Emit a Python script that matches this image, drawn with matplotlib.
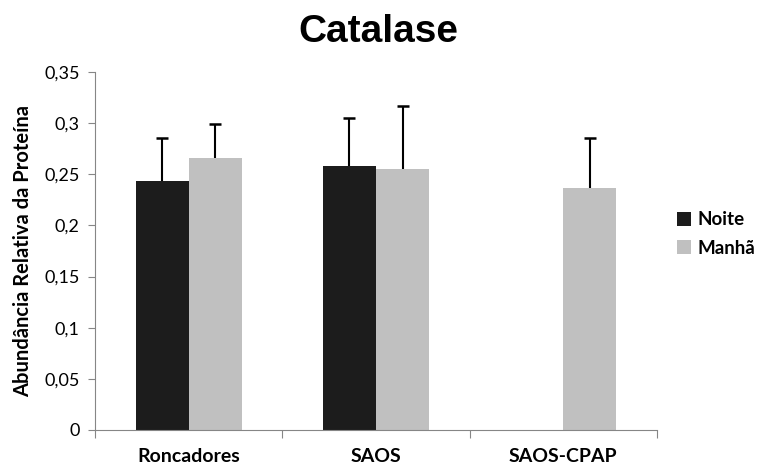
import numpy as np
import matplotlib.pyplot as plt

groups = ["Roncadores", "SAOS", "SAOS-CPAP"]
noite = [0.243, 0.258, 0.0]
manha = [0.266, 0.2555, 0.2363]
noite_err = [0.042, 0.047, 0.0]
manha_err = [0.033, 0.061, 0.049]

fig = plt.figure(figsize=(7.61, 4.68), dpi=100)
ax = fig.add_axes([95 / 761, 38 / 468, 562 / 761, 358 / 468])

x = np.arange(len(groups))
w = 0.283
axis_grey = "#868686"

ax.bar(x - w / 2, noite, w, color="#1c1c1c", label="Noite")
ax.bar(x + w / 2, manha, w, color="#c0c0c0", label="Manhã")

# upper-only error bars
for xs, ys, es in [(x - w / 2, noite, noite_err), (x + w / 2, manha, manha_err)]:
    for xi, yi, ei in zip(xs, ys, es):
        if ei <= 0:
            continue
        ax.vlines(xi, yi, yi + ei, color="black", lw=1.5, zorder=3)
        ax.plot(xi, yi + ei, marker="_", ms=9, mew=1.8, color="black", zorder=3)

ax.set_xlim(-0.5, 2.5)
ax.set_ylim(0, 0.35)
ax.set_yticks(np.arange(0, 0.351, 0.05))
ax.set_yticklabels(["0", "0,05", "0,1", "0,15", "0,2", "0,25", "0,3", "0,35"],
                   fontsize=13, family="Lato")

# category labels centred, ticks on the boundaries
ax.set_xticks([-0.5, 0.5, 1.5, 2.5])
ax.set_xticklabels([])
ax.set_xticks(x, minor=True)
ax.set_xticklabels(groups, minor=True, fontsize=14, fontweight="bold", family="Lato")
ax.tick_params(axis="x", which="minor", length=0, pad=13)
ax.tick_params(axis="x", which="major", length=6, color=axis_grey)
ax.tick_params(axis="y", length=5, color=axis_grey, pad=6)

for side in ["top", "right"]:
    ax.spines[side].set_visible(False)
for side in ["left", "bottom"]:
    ax.spines[side].set_color(axis_grey)

ax.set_ylabel("Abundância Relativa da Proteína", fontsize=14.5, fontweight="bold",
              family="Lato", labelpad=8)

fig.text(378 / 761, 1 - 32 / 468, "Catalase", ha="center", va="center",
         fontsize=28, fontweight="bold", family="Liberation Sans")

fig.legend(loc="center left", bbox_to_anchor=(664 / 761, 1 - 234 / 468), frameon=False,
           prop={"family": "Lato", "weight": "bold", "size": 13.5},
           handlelength=0.75, handleheight=0.75, handletextpad=0.35, labelspacing=0.6,
           borderpad=0.2)

fig.savefig("out.png", dpi=100)
